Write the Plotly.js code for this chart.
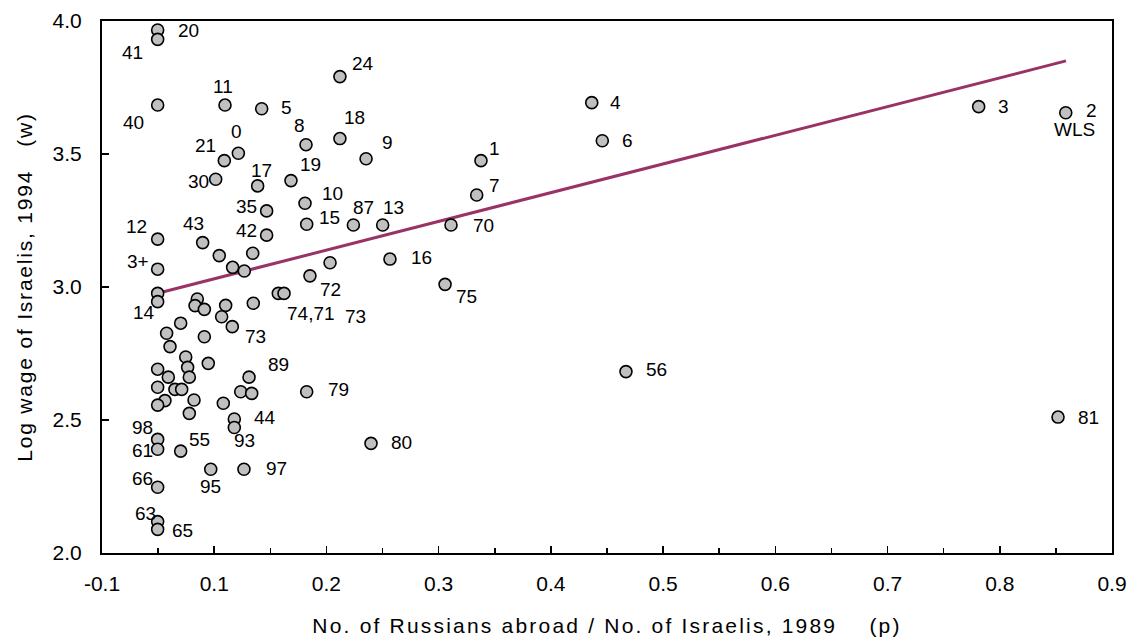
<!DOCTYPE html>
<html>
<head>
<meta charset="utf-8">
<script src="https://cdn.plot.ly/plotly-3.0.1.min.js"></script>
<style>
html,body{margin:0;padding:0;background:#fff;}
#chart{width:1136px;height:643px;}
.xtitle{letter-spacing:2.2px;}
.ytitle{letter-spacing:1.8px;}
</style>
</head>
<body>
<div id="chart"></div>
<script>
// Data (x in axis units where the left edge is the first tick)
const pointX = [0.0496,0.0496,0.212,0.0496,0.1096,0.1423,0.1818,0.212,0.1215,0.109,
  0.2353,0.1013,0.1387,0.1684,0.1809,0.1467,0.1824,0.224,0.2501,0.1467,
  0.0496,0.0897,0.1045,0.1343,0.0496,0.1164,0.1268,0.2032,0.1853,0.0496,
  0.0496,0.1571,0.1622,0.0849,0.0829,0.0912,0.1102,0.1348,0.1066,0.1161,
  0.0576,0.0701,0.0912,0.0606,0.0746,0.0763,0.0947,0.0496,0.0591,0.0778,
  0.131,0.0496,0.065,0.071,0.1236,0.1334,0.1824,0.0561,0.0496,0.082,
  0.1081,0.0778,0.1179,0.1179,0.2397,0.0496,0.0496,0.0701,0.0969,0.1265,
  0.0496,0.0496,0.0496,0.4364,0.4458,0.3377,0.3339,0.311,0.2566,0.3057,
  0.4669,0.7812,0.8588,0.8519];
const pointY = [3.966,3.931,3.791,3.684,3.684,3.670,3.535,3.558,3.503,3.475,
  3.482,3.405,3.380,3.400,3.315,3.286,3.236,3.233,3.233,3.195,
  3.180,3.167,3.118,3.127,3.067,3.074,3.060,3.091,3.042,2.976,
  2.945,2.976,2.976,2.955,2.930,2.916,2.931,2.939,2.888,2.851,
  2.826,2.864,2.813,2.776,2.737,2.698,2.713,2.691,2.661,2.661,
  2.661,2.623,2.615,2.615,2.606,2.600,2.606,2.573,2.556,2.575,
  2.563,2.525,2.504,2.472,2.412,2.427,2.390,2.383,2.315,2.315,
  2.247,2.118,2.089,3.693,3.550,3.475,3.346,3.233,3.105,3.010,
  2.682,3.678,3.655,2.511];
const fitX = [0.054, 0.859];
const fitY = [2.981, 3.850];
const xTickVals = [0,0.1,0.2,0.3,0.4,0.5,0.6,0.7,0.8,0.9];
const xTickText = ["-0.1","0.1","0.2","0.3","0.4","0.5","0.6","0.7","0.8","0.9"];
const yTickVals = [2.0,2.5,3.0,3.5,4.0];

// Label placement: [point index, text, dx px, dy px (down)]
const labelPlacement = [
  [0,"20",31,0],[1,"41",-25,13],[2,"24",23,-13],[3,"40",-24,17],[4,"11",-2,-19],
  [5,"5",25,-1],[6,"8",-7,-19],[7,"18",15,-21],[8,"0",-2,-22],[9,"21",-19,-15],
  [10,"9",21,-16],[11,"30",-17,2],[12,"17",4,-15],[13,"19",20,-16],[14,"10",27,-10],
  [15,"35",-20,-4],[16,"15",23,-7],[17,"87",10,-18],[18,"13",11,-18],[19,"42",-20,-5],
  [20,"12",-21,-13],[21,"43",-9,-19],[24,"3+",-20,-8],[28,"72",21,14],[28,"73",46,41],
  [30,"14",-14,11],[31,"74,71",33,20],[39,"73",23,10],[50,"89",29,-13],[56,"79",32,-2],
  [62,"44",31,-1],[63,"93",10,13],[64,"80",30,-1],[65,"98",-15,-12],[66,"61",-15,1],
  [67,"55",19,-12],[68,"95",0,17],[69,"97",33,-1],[70,"66",-15,-9],[71,"63",-12,-8],
  [72,"65",25,1],[73,"4",24,0],[74,"6",25,0],[75,"1",14,-12],[76,"7",18,-9],
  [77,"70",32,0],[78,"16",32,-2],[79,"75",21,12],[80,"56",31,-2],[81,"3",25,0],
  [82,"2",26,-2],[82,"WLS",9,17],[83,"81",30,0]
];

const FONT = "Liberation Sans, Arial, sans-serif";

const annotations = labelPlacement.map(([i, t, dx, dy]) => ({
  x: pointX[i], y: pointY[i], xref: "x", yref: "y",
  text: t, showarrow: false, xshift: dx, yshift: -dy,
  font: {family: FONT, size: 19, color: "#000"}
}));

const traces = [
  {
    x: fitX, y: fitY, type: "scatter", mode: "lines",
    line: {color: "#993366", width: 3}, hoverinfo: "skip"
  },
  {
    x: pointX, y: pointY, type: "scatter", mode: "markers",
    marker: {size: 12, color: "#c0c0c0", line: {color: "#000", width: 1.6}}
  }
];

const layout = {
  width: 1136, height: 643,
  margin: {l: 102, r: 24, t: 21, b: 90},
  paper_bgcolor: "#fff", plot_bgcolor: "#fff",
  showlegend: false,
  font: {family: FONT, size: 19, color: "#000"},
  xaxis: {
    range: [0, 0.9], tickvals: xTickVals, ticktext: xTickText,
    showgrid: false, zeroline: false,
    showline: true, linecolor: "#000", linewidth: 2, mirror: true,
    ticks: "inside", ticklen: 7, tickwidth: 1.5, tickcolor: "#000",
    minor: {dtick: 0.05, tick0: 0.05, ticks: "inside", ticklen: 5, tickwidth: 1.5, tickcolor: "#000"},
    tickfont: {family: FONT, size: 21},
    ticklabelstandoff: 11,
    title: {text: "No. of Russians abroad / No. of Israelis, 1989\u00a0\u00a0\u00a0\u00a0(p)",
      font: {family: FONT, size: 21}, standoff: 24}
  },
  yaxis: {
    range: [2.0, 4.0], tickvals: yTickVals, tickformat: ".1f",
    showgrid: false, zeroline: false,
    showline: true, linecolor: "#000", linewidth: 2, mirror: true,
    ticks: "inside", ticklen: 7, tickwidth: 1.5, tickcolor: "#000",
    tickfont: {family: FONT, size: 21},
    ticklabelstandoff: 14,
    title: {text: "Log wage of Israelis, 1994\u00a0\u00a0\u00a0(w)",
      font: {family: FONT, size: 21}, standoff: 14}
  },
  annotations: annotations
};

Plotly.newPlot("chart", traces, layout, {staticPlot: true, displayModeBar: false});
</script>
</body>
</html>
